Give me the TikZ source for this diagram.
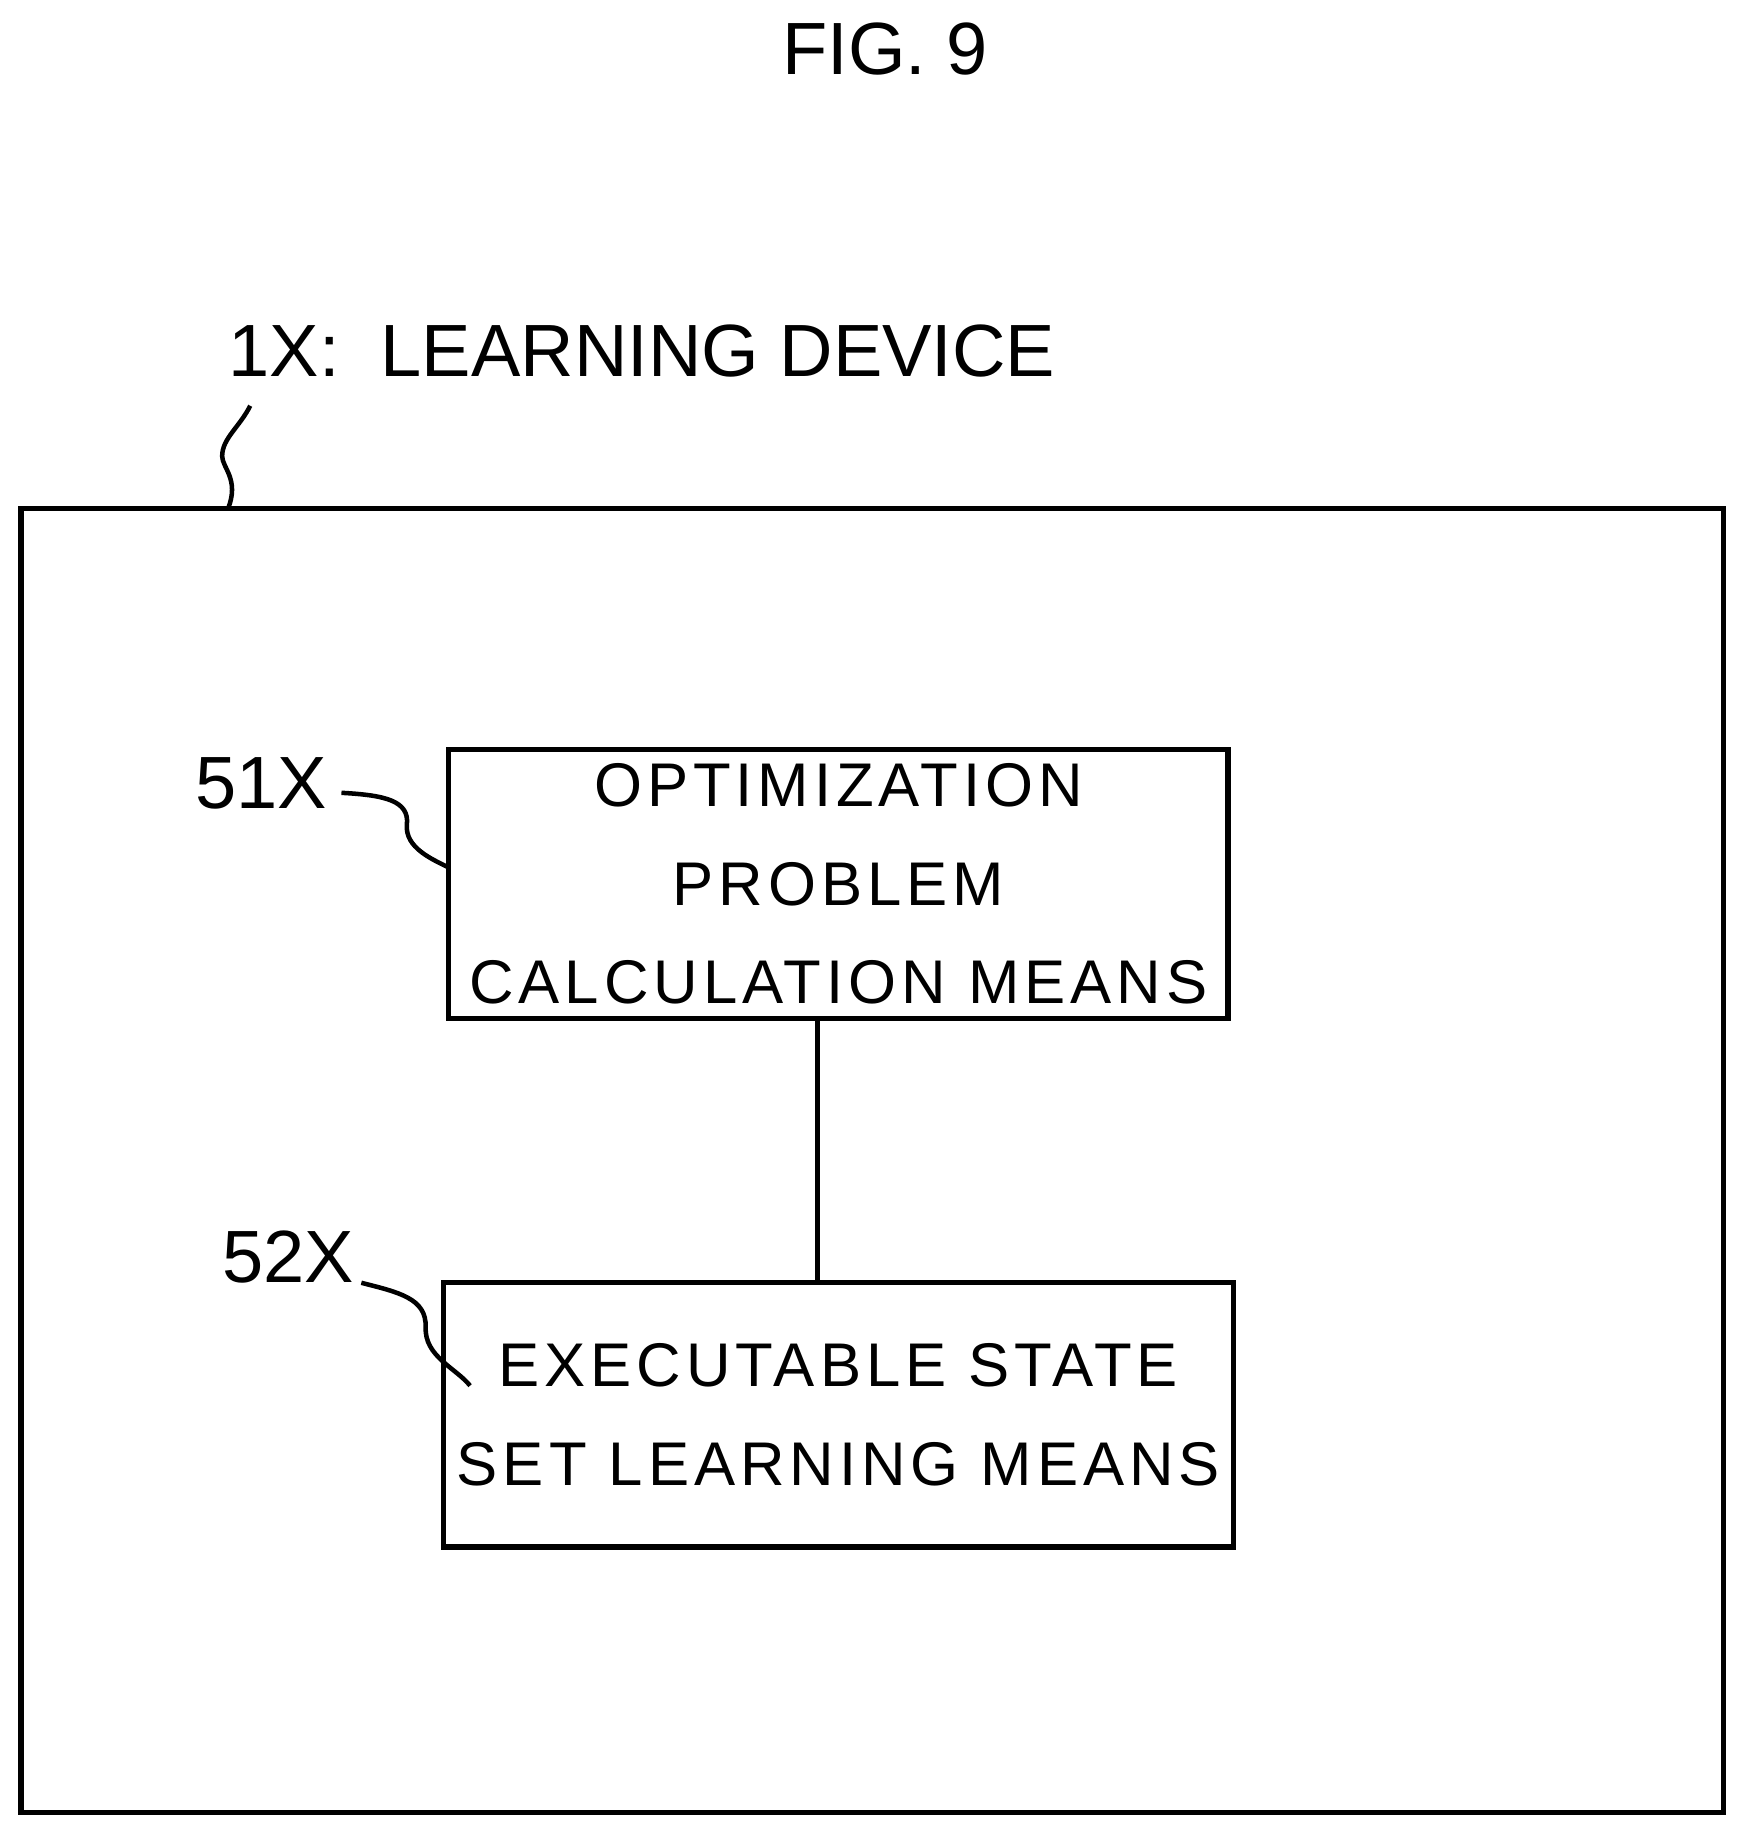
\documentclass[tikz,border=0pt]{standalone}
\usepackage{fontspec}
\setmainfont{Liberation Sans}
\begin{document}
\begin{tikzpicture}[x=0.01cm,y=-0.01cm,
  box/.style={draw,line width=1.3pt,minimum width=6.66cm,minimum height=2.26cm,align=center,font=\fontsize{15}{24}\selectfont\addfontfeature{LetterSpace=8}},
  lead/.style={line width=1.1pt},
  lbl/.style={font=\fontsize{18}{22}\selectfont}]
\useasboundingbox (0,0) rectangle (1490,1565);
\node[lbl] (fig) at (757,42) {FIG. 9};
\node[lbl,anchor=west] (dev) at (183,300) {1X:\ \ LEARNING DEVICE};
\draw[line width=1.3pt] (18,435) rectangle (1474,1550);
\coordinate (dtop) at (214,347);
\coordinate (dbot) at (195,435);
\draw[lead] (dbot) .. controls (205,410) and (190,400) .. (190,390) .. controls (190,375) and (205,365) .. (dtop);
\node[box] (b1) at (717,756) {OPTIMIZATION\\PROBLEM\\CALCULATION MEANS};
\node[box] (b2) at (717,1210) {EXECUTABLE STATE\\SET LEARNING MEANS};
\draw[line width=1.3pt] (b1.south -| 699,0) -- (b2.north -| 699,0);
\node[lbl,anchor=east] (l1) at (292,670) {51X};
\node[lbl,anchor=east] (l2) at (315,1075) {52X};
\coordinate (e1) at (384,742);
\coordinate (e2) at (402,1185);
\draw[lead] (l1.east) ++(0,8) .. controls (330,680) and (350,685) .. (348,705) .. controls (346,725) and (370,735) .. (e1);
\draw[lead] (l2.east) ++(-6,22) .. controls (340,1105) and (365,1110) .. (364,1135) .. controls (363,1160) and (390,1170) .. (e2);
\end{tikzpicture}
\end{document}
